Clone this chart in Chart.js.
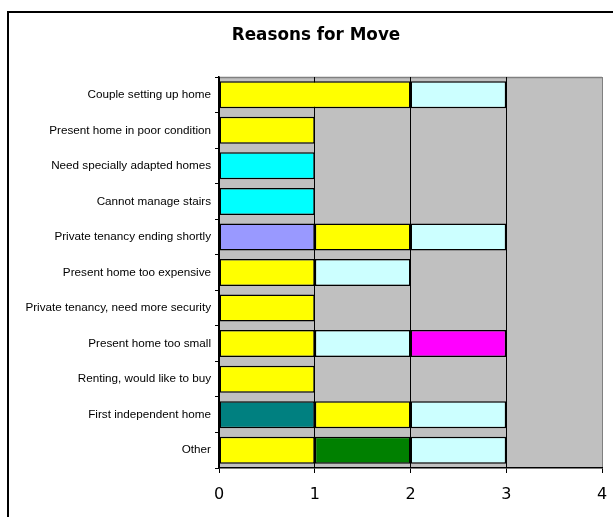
<!DOCTYPE html>
<html>
<head>
<meta charset="utf-8">
<script src="https://cdn.jsdelivr.net/npm/chart.js@4/dist/chart.umd.min.js"></script>
<style>
  html, body { margin: 0; padding: 0; background: #fff; }
  canvas { display: block; }
</style>
</head>
<body>
<canvas id="moveChart" width="613" height="517"></canvas>
<script>
// categories, top to bottom
const reasons = [
  'Couple setting up home',
  'Present home in poor condition',
  'Need specially adapted homes',
  'Cannot manage stairs',
  'Private tenancy ending shortly',
  'Present home too expensive',
  'Private tenancy, need more security',
  'Present home too small',
  'Renting, would like to buy',
  'First independent home',
  'Other'
];

// one series per fill colour, stacked in this order
const tealCounts     = [null, null, null, null, null, null, null, null, null, 1, null];
const lavenderCounts = [null, null, null, null, 1, null, null, null, null, null, null];
const yellowCounts   = [2, 1, null, null, 1, 1, 1, 1, 1, 1, 1];
const greenCounts    = [null, null, null, null, null, null, null, null, null, null, 1];
const paleCyanCounts = [1, null, null, null, 1, 1, null, 1, null, 1, 1];
const magentaCounts  = [null, null, null, null, null, null, null, 1, null, null, null];
const cyanCounts     = [null, null, 1, 1, null, null, null, null, null, null, null];

const xTicks = [0, 1, 2, 3, 4];
const chartTitle = 'Reasons for Move';

function series(label, data, colour) {
  return {
    label: label,
    data: data,
    backgroundColor: colour,
    borderColor: '#000000',
    borderWidth: 1.5,
    borderSkipped: false,
    barPercentage: 0.76,
    categoryPercentage: 1
  };
}

// white page, frame, grey plot area and the heading
const backdrop = {
  id: 'backdrop',
  beforeDraw(chart) {
    const ctx = chart.ctx;
    const a = chart.chartArea;
    ctx.save();
    ctx.fillStyle = '#ffffff';
    ctx.fillRect(0, 0, chart.width, chart.height);
    ctx.strokeStyle = '#000000';
    ctx.lineWidth = 2;
    ctx.strokeRect(8, 12, 700, 600);
    ctx.fillStyle = '#c0c0c0';
    ctx.fillRect(a.left, a.top, a.right - a.left, a.bottom - a.top);
    ctx.strokeStyle = '#808080';
    ctx.lineWidth = 1.5;
    ctx.beginPath();
    ctx.moveTo(a.left, a.top + 0.5);
    ctx.lineTo(a.right, a.top + 0.5);
    ctx.stroke();

    ctx.fillStyle = '#000000';
    ctx.font = 'bold 16.8px "DejaVu Sans"';
    ctx.textAlign = 'center';
    ctx.textBaseline = 'middle';
    ctx.fillText(chartTitle, 316, 36);
    ctx.restore();
  }
};

new Chart(document.getElementById('moveChart').getContext('2d'), {
  type: 'bar',
  data: {
    labels: reasons,
    datasets: [
      series('Teal', tealCounts, '#008080'),
      series('Lavender', lavenderCounts, '#9999ff'),
      series('Yellow', yellowCounts, '#ffff00'),
      series('Green', greenCounts, '#008000'),
      series('Pale cyan', paleCyanCounts, '#ccffff'),
      series('Magenta', magentaCounts, '#ff00ff'),
      series('Cyan', cyanCounts, '#00ffff')
    ]
  },
  plugins: [backdrop],
  options: {
    indexAxis: 'y',
    responsive: false,
    animation: false,
    layout: { padding: { left: 0, right: 11, top: 77, bottom: 0 } },
    plugins: {
      legend: { display: false },
      tooltip: { enabled: false },
      title: { display: false }
    },
    scales: {
      x: {
        stacked: true,
        min: xTicks[0],
        max: xTicks[xTicks.length - 1],
        afterBuildTicks(axis) {
          axis.ticks = xTicks.map(v => ({ value: v }));
        },
        afterFit(axis) {
          axis.height = 49;
          axis.paddingLeft = 0;
          axis.paddingRight = 0;
        },
        grid: {
          color: ctx => (ctx.tick && ctx.tick.value === 4 ? '#808080' : '#000000'),
          tickColor: '#000000',
          tickLength: 5,
          lineWidth: 1
        },
        border: { color: '#000000', width: 1.5 },
        ticks: {
          color: '#000000',
          padding: 12,
          font: { family: 'DejaVu Sans', size: 16 }
        }
      },
      y: {
        stacked: true,
        afterFit(axis) {
          axis.width = 219;
          axis.paddingTop = 0;
          axis.paddingBottom = 0;
        },
        grid: {
          drawOnChartArea: false,
          offset: true,
          color: '#000000',
          tickLength: 4
        },
        border: { color: '#000000', width: 1.5 },
        ticks: {
          color: '#000000',
          padding: 4,
          autoSkip: false,
          font: { family: 'Liberation Sans', size: 11.7 }
        }
      }
    }
  }
});
</script>
</body>
</html>
